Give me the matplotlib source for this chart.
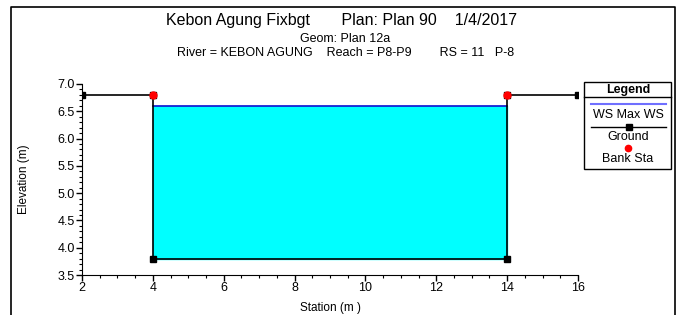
import matplotlib
matplotlib.use("Agg")
import matplotlib.pyplot as plt
from matplotlib.lines import Line2D
from matplotlib.ticker import MultipleLocator

plt.rcParams['font.family'] = ['Liberation Sans', 'DejaVu Sans']

# cross section data
station = [2, 4, 4, 14, 14, 16]
ground = [6.8, 6.8, 3.8, 3.8, 6.8, 6.8]
bank_sta = [4, 14]
bank_elev = [6.8, 6.8]
ws_elev = 6.59
ws_left, ws_right = 4, 14
bed_elev = 3.8

W, H = 678, 315
fig = plt.figure(figsize=(W / 100, H / 100), dpi=100)

def fx(px):
    return px / W

def fy(py):
    return 1 - py / H

# outer frame (left, top, right)
fig.add_artist(Line2D([fx(11), fx(11), fx(675), fx(675)],
                      [0, fy(7), fy(7), 0], color='black', lw=1.2))

ax = fig.add_axes([fx(82), fy(275), fx(578) - fx(82), fy(84) - fy(275)])

ax.fill_between([ws_left, ws_right], bed_elev, ws_elev, color='#00ffff', zorder=1)
ax.plot([ws_left, ws_right], [ws_elev, ws_elev], color='#1010d0', lw=1.2, zorder=2)
ax.plot(station, ground, color='black', lw=1.2, marker='s', ms=4, zorder=3)
ax.plot(bank_sta, bank_elev, 'o', color='red', ms=5, zorder=4, clip_on=False)

ax.set_xlim(2, 16)
ax.set_ylim(3.5, 7.0)
ax.xaxis.set_major_locator(MultipleLocator(2))
ax.xaxis.set_minor_locator(MultipleLocator(0.5))
ax.yaxis.set_major_locator(MultipleLocator(0.5))
ax.yaxis.set_minor_locator(MultipleLocator(0.1))
ax.yaxis.set_major_formatter(matplotlib.ticker.FormatStrFormatter('%.1f'))
for s in ['top', 'right']:
    ax.spines[s].set_visible(False)
ax.tick_params(which='major', length=4, width=1, labelsize=9, pad=1)
ax.tick_params(which='minor', length=2, width=0.8)

fig.text(fx(330), fy(308), 'Station (m )', ha='center', va='center', fontsize=8.5)
fig.text(fx(24), fy(179), 'Elevation (m)', ha='center', va='center',
         rotation=90, fontsize=8.5)

# titles
fig.text(fx(342), fy(21), 'Kebon Agung Fixbgt       Plan: Plan 90    1/4/2017',
         ha='center', va='center', fontsize=11.5)
fig.text(fx(345), fy(39), 'Geom: Plan 12a', ha='center', va='center', fontsize=9)
fig.text(fx(346), fy(53), 'River = KEBON AGUNG    Reach = P8-P9        RS = 11   P-8',
         ha='center', va='center', fontsize=9)

# legend box drawn by hand
lx0, lx1, ly0, ly1 = 584, 671, 82, 169
fig.add_artist(plt.Rectangle((fx(lx0), fy(ly1)), fx(lx1) - fx(lx0), fy(ly0) - fy(ly1),
                             fill=False, ec='black', lw=1.0))
fig.add_artist(Line2D([fx(lx0), fx(lx1)], [fy(97), fy(97)], color='black', lw=1.0))
fig.text(fx(628), fy(90), 'Legend', ha='center', va='center', fontsize=9, weight='bold')
fig.add_artist(Line2D([fx(591), fx(666)], [fy(104), fy(104)], color='#6f6fff', lw=1.5))
fig.text(fx(628), fy(115), 'WS Max WS', ha='center', va='center', fontsize=9)
fig.add_artist(Line2D([fx(591), fx(666)], [fy(127), fy(127)], color='black', lw=1.0))
fig.add_artist(Line2D([fx(629)], [fy(127)], color='black', marker='s', ms=4))
fig.text(fx(628), fy(137), 'Ground', ha='center', va='center', fontsize=9)
fig.add_artist(Line2D([fx(628)], [fy(148)], color='red', marker='o', ms=4.5))
fig.text(fx(628), fy(159), 'Bank Sta', ha='center', va='center', fontsize=9)

fig.savefig('out.png', dpi=100)
